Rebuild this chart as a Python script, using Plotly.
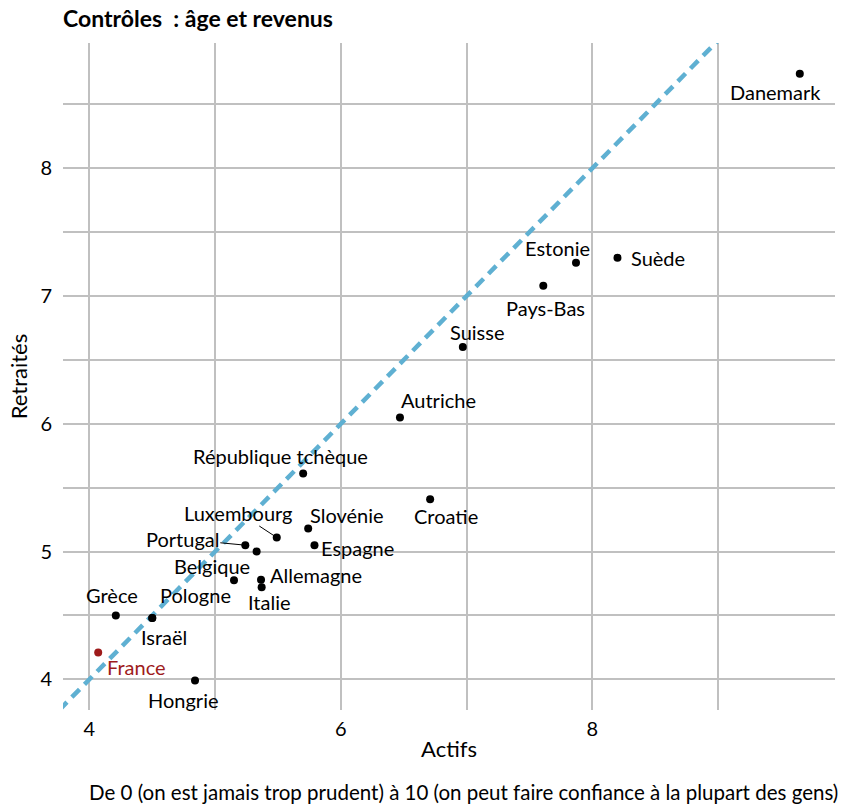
import plotly.graph_objects as go

# ---- data ----
countries = ["Danemark", "Estonie", "Suède", "Pays-Bas", "Suisse", "Autriche", "Croatie",
             "République tchèque", "Slovénie", "Espagne", "Luxembourg", "Portugal", "",
             "Belgique", "Allemagne", "Italie", "Grèce", "Pologne", "Israël", "France", "Hongrie"]
actifs = [9.65, 7.87, 8.20, 7.61, 6.97, 6.47, 6.71,
          5.70, 5.74, 5.79, 5.49, 5.24, 5.33,
          5.15, 5.365, 5.37, 4.21, 4.50, 4.50, 4.07, 4.84]
retraites = [8.74, 7.26, 7.30, 7.08, 6.60, 6.05, 5.41,
             5.61, 5.18, 5.05, 5.11, 5.05, 5.00,
             4.775, 4.78, 4.72, 4.50, 4.48, 4.48, 4.21, 3.99]
highlight = "France"

x_tickvals = [4, 5, 6, 7, 8, 9]
x_ticktext = ["4", "", "6", "", "8", ""]
y_tickvals = [4, 4.5, 5, 5.5, 6, 6.5, 7, 7.5, 8, 8.5]
y_ticktext = ["4", "", "5", "", "6", "", "7", "", "8", ""]
x_range = [3.79, 9.93]
y_range = [3.76, 8.98]

title = "Contrôles  : âge et revenus"
x_title = "Actifs"
y_title = "Retraités"
footer = "De 0 (on est jamais trop prudent) à 10 (on peut faire confiance à la plupart des gens)"

# ---- label placement (pixel offsets: right, down) ----
label_offsets = {
    "Danemark": (-24, 18), "Estonie": (-18, -15), "Suède": (41, 0), "Pays-Bas": (2, 22),
    "Suisse": (14, -15), "Autriche": (39, -17), "Croatie": (16, 17),
    "République tchèque": (-23, -18), "Slovénie": (39, -14), "Espagne": (43, 3),
    "Belgique": (-22, -14), "Allemagne": (55, -5), "Italie": (8, 15), "Grèce": (-4, -20),
    "Pologne": (43, -23), "Israël": (12, 19), "France": (38, 14), "Hongrie": (-12, 19),
}
leader_offsets = {"Luxembourg": (-38, -25), "Portugal": (-63, -6)}

FONT = "Lato"
LABEL_SIZE = 20
RED = "#9e1b1b"
colors = [RED if c == highlight else "black" for c in countries]

fig = go.Figure()
lo = min(x_range[0], y_range[0])
hi = max(x_range[1], y_range[1])
fig.add_trace(go.Scatter(x=[lo, hi], y=[lo, hi], mode="lines",
                         line=dict(color="#5fb0d2", width=4.5, dash="11px,7px"),
                         hoverinfo="skip", showlegend=False))
fig.add_trace(go.Scatter(x=actifs, y=retraites, mode="markers",
                         marker=dict(color=colors, size=8), text=countries,
                         showlegend=False))

for c, xv, yv, col in zip(countries, actifs, retraites, colors):
    if c in label_offsets:
        dx, dy = label_offsets[c]
        fig.add_annotation(x=xv, y=yv, text=c, showarrow=False, xshift=dx, yshift=-dy,
                           font=dict(family=FONT, size=LABEL_SIZE, color=col))
    elif c in leader_offsets:
        ax, ay = leader_offsets[c]
        fig.add_annotation(x=xv, y=yv, text=c, showarrow=True, arrowhead=0, arrowwidth=1,
                           arrowcolor="black", ax=ax, ay=ay, standoff=3,
                           font=dict(family=FONT, size=LABEL_SIZE, color=col))

fig.add_annotation(xref="paper", yref="paper", x=1.006, y=-0.123, xanchor="right", yanchor="middle",
                   text=footer, showarrow=False,
                   font=dict(family=FONT, size=20.5, color="black"))

grid = "#c0c0c0"
fig.update_layout(
    width=843, height=807,
    margin=dict(l=63, r=8, t=43, b=97),
    paper_bgcolor="white", plot_bgcolor="white",
    font=dict(family=FONT, size=20, color="black"),
    title=dict(text="<b>" + title + "</b>", x=63 / 843, xref="container", xanchor="left",
               y=1 - 19 / 807, yanchor="middle", font=dict(family=FONT, size=23)),
    xaxis=dict(range=x_range, tickvals=x_tickvals, ticktext=x_ticktext, showgrid=True,
               gridcolor=grid, gridwidth=1.5, zeroline=False, showline=False,
               ticks="outside", ticklen=1, tickcolor="rgba(0,0,0,0)", automargin=False,
               title=dict(text=x_title, font=dict(size=22), standoff=2),
               tickfont=dict(size=20)),
    yaxis=dict(range=y_range, tickvals=y_tickvals, ticktext=y_ticktext, showgrid=True,
               gridcolor=grid, gridwidth=1.5, zeroline=False, showline=False,
               ticks="outside", ticklen=6, tickcolor="rgba(0,0,0,0)", automargin=False,
               title=dict(text=y_title, font=dict(size=22), standoff=6),
               tickfont=dict(size=20)),
)

fig.write_html("out.html", config={"displayModeBar": False},
               post_script="document.body.style.margin='0';")
